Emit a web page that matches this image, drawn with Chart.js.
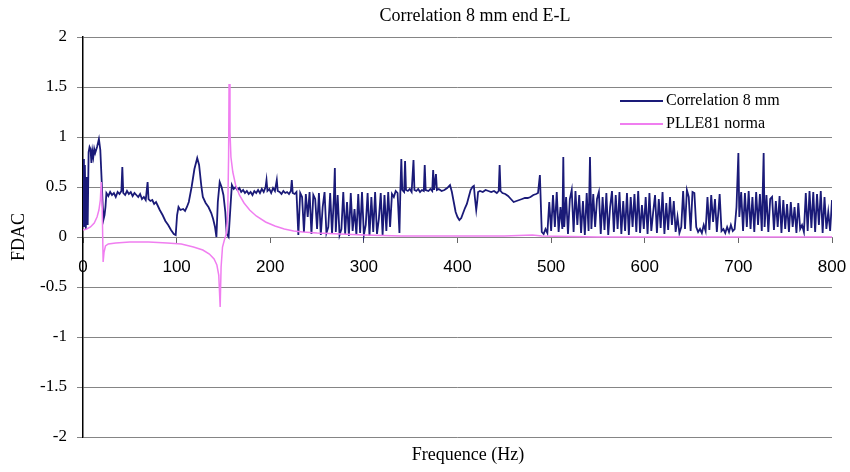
<!DOCTYPE html>
<html>
<head>
<meta charset="utf-8">
<title>Correlation 8 mm end E-L</title>
<script src="https://cdn.jsdelivr.net/npm/chart.js@4.4.1/dist/chart.umd.min.js"></script>
<style>
  html, body { margin: 0; padding: 0; background: #fff; }
  #fdac-chart { display: block; }
</style>
</head>
<body>
<canvas id="fdac-chart" width="850" height="472"></canvas>
<script>
const chartTitle = 'Correlation 8 mm end E-L';
const xTitle = 'Frequence (Hz)';
const yTitle = 'FDAC';
const seriesNames = ['Correlation 8 mm', 'PLLE81 norma'];
const xTicks = [0, 100, 200, 300, 400, 500, 600, 700, 800];
const yTicks = [-2, -1.5, -1, -0.5, 0, 0.5, 1, 1.5, 2];

// [frequency (Hz), FDAC]
const correlation8mm = [
	[0, 0.78], [1, 0.10], [2, 0.72], [3, 0.08], [4, 0.60], [5, 0.12], [6, 0.85], [7, 0.90], [8, 0.88],
	[9, 0.74], [10, 0.86], [11, 0.80], [12, 0.88], [13, 0.84], [15, 0.90], [17, 0.98], [18.5, 0.87],
	[20, 0.55], [21, 0.32], [22, 0.18], [23, 0.22], [24, 0.30], [25, 0.44],
	[27, 0.41], [29, 0.45], [31, 0.42], [33, 0.44], [35, 0.40], [37, 0.45], [39, 0.43], [41, 0.46],
	[42, 0.70], [43, 0.44], [45, 0.42], [47, 0.46], [49, 0.43], [51, 0.45], [53, 0.41], [55, 0.44],
	[57, 0.42], [59, 0.40], [61, 0.43], [63, 0.38], [65, 0.40], [67, 0.37], [69, 0.55], [70, 0.38],
	[72, 0.36], [74, 0.37], [76, 0.33], [78, 0.35], [80, 0.31],
	[82, 0.27], [85, 0.22], [88, 0.16], [91, 0.12], [94, 0.07], [97, 0.03], [99, 0.02], [100.5, 0.22],
	[102, 0.30], [104, 0.27], [107, 0.28], [109, 0.26], [111, 0.30], [113, 0.35], [116, 0.50], [119, 0.68],
	[122, 0.79], [124, 0.72], [126.5, 0.50], [128, 0.40], [131, 0.34], [134, 0.30], [137, 0.24], [139, 0.18],
	[141, 0.10], [142.5, 0.0], [144, 0.35], [146, 0.55], [148, 0.50], [150, 0.42], [152, 0.25], [153.5, 0.03],
	[155.5, 0.0], [157.5, 0.30], [159, 0.52],
	[161, 0.48], [163, 0.50], [165, 0.47], [167, 0.49], [169, 0.45], [171, 0.47], [173, 0.44], [175, 0.46],
	[177, 0.43], [179, 0.45], [181, 0.42], [183, 0.46], [185, 0.44], [187, 0.47], [189, 0.44], [191, 0.48],
	[193, 0.45], [195, 0.50], [196, 0.57], [197, 0.46], [199, 0.48], [201, 0.44], [203, 0.49], [205, 0.46],
	[207, 0.57], [208, 0.46], [210, 0.45], [212, 0.43], [214, 0.46], [216, 0.44], [218, 0.45], [220, 0.43],
	[222, 0.46], [223, 0.57], [224, 0.44], [226, 0.43], [228, 0.45],
	[230, 0.02], [232, 0.44], [234, 0.40], [236, 0.05], [238, 0.43], [240, 0.20], [242, 0.45], [244, 0.03],
	[246, 0.42], [248, 0.38], [250, 0.08], [252, 0.44], [254, 0.02], [256, 0.30], [258, 0.45], [260, 0.04],
	[262, 0.10], [264, 0.44], [266, 0.03], [268, 0.40], [269, 0.69], [270, 0.05], [272, 0.42], [274, 0.02],
	[276, 0.08], [278, 0.45], [280, 0.03], [282, 0.35], [284, 0.01], [286, 0.44], [288, 0.06], [290, 0.28],
	[292, 0.02], [294, 0.43], [296, 0.04], [298, 0.45], [300, 0.02], [302, 0.12], [304, 0.44], [306, 0.01],
	[308, 0.40], [310, 0.05], [312, 0.45], [314, 0.03], [316, 0.18], [318, 0.44], [320, 0.02], [322, 0.42],
	[324, 0.06], [326, 0.45], [328, 0.10], [330, 0.43], [332, 0.40], [334, 0.46], [336, 0.44], [338, 0.04],
	[339, 0.47], [340, 0.78], [341, 0.47], [343, 0.45], [344, 0.76], [345, 0.47], [347, 0.46], [349, 0.48],
	[351, 0.45], [353, 0.77], [354, 0.47], [356, 0.46], [358, 0.48], [360, 0.45], [362, 0.47], [364, 0.46],
	[365, 0.72], [366, 0.47], [369, 0.46], [371, 0.48], [373, 0.46], [374, 0.67], [375, 0.47], [377, 0.63],
	[378, 0.47], [380, 0.48], [383, 0.46], [386, 0.47], [389, 0.49], [392, 0.52], [394, 0.45], [396, 0.35],
	[398, 0.25], [400, 0.20], [402, 0.17], [404, 0.19], [406, 0.24], [408, 0.29], [410, 0.33], [412, 0.40],
	[414, 0.47], [416, 0.50], [417.5, 0.51], [418.5, 0.40], [420, 0.27], [421, 0.35], [422, 0.45], [424, 0.46],
	[427, 0.45], [430, 0.47], [433, 0.46], [436, 0.45], [439, 0.46], [442, 0.44], [444, 0.46], [445, 0.72],
	[446, 0.46], [448, 0.44], [451, 0.43], [454, 0.41], [457, 0.38], [460, 0.35], [463, 0.36], [466, 0.37],
	[469, 0.38], [472, 0.39], [475, 0.39], [478, 0.40], [481, 0.42], [484, 0.43], [486, 0.44], [488, 0.62],
	[490, 0.05], [492, 0.03], [494, 0.08], [496, 0.04], [498, 0.35], [500, 0.06], [502, 0.42], [504, 0.10],
	[506, 0.45], [508, 0.05], [510, 0.30], [512, 0.08], [513, 0.80], [514, 0.10], [516, 0.40], [518, 0.03],
	[520, 0.38], [522, 0.47], [524, 0.05], [526, 0.46], [528, 0.12], [530, 0.42], [532, 0.04], [534, 0.36],
	[536, 0.02], [538, 0.44], [540, 0.06], [541.5, 0.80], [543, 0.08], [545, 0.43], [547, 0.10], [549, 0.38],
	[551, 0.45], [553, 0.03], [555, 0.40], [557, 0.07], [559, 0.44], [561, 0.02], [563, 0.30], [565, 0.46],
	[567, 0.05], [569, 0.42], [571, 0.08], [573, 0.45], [575, 0.03], [577, 0.36], [579, 0.06], [581, 0.44],
	[583, 0.02], [585, 0.40], [587, 0.10], [589, 0.43], [591, 0.05], [593, 0.46], [595, 0.04], [597, 0.32],
	[599, 0.08], [601, 0.40], [603, 0.03], [605, 0.44], [607, 0.06], [609, 0.25], [611, 0.42], [613, 0.04],
	[615, 0.38], [617, 0.09], [619, 0.45], [621, 0.03], [623, 0.34], [625, 0.07], [627, 0.40], [629, 0.12],
	[631, 0.36], [633, 0.05], [635, 0.20], [637, 0.04], [639, 0.10], [641, 0.46], [643, 0.08], [645, 0.47],
	[647, 0.40], [649, 0.06], [651, 0.45], [653, 0.44], [655, 0.10], [657, 0.05], [659, 0.08], [661, 0.04],
	[663, 0.12], [665, 0.06], [667, 0.40], [669, 0.07], [671, 0.42], [673, 0.15], [675, 0.38], [677, 0.05],
	[679, 0.30], [680, 0.43], [682, 0.06], [684, 0.08], [686, 0.04], [688, 0.10], [690, 0.05], [692, 0.12],
	[694, 0.06], [696, 0.08], [698, 0.30], [700, 0.84], [701, 0.20], [703, 0.45], [705, 0.06], [707, 0.44],
	[709, 0.10], [711, 0.46], [713, 0.08], [715, 0.40], [717, 0.05], [719, 0.45], [721, 0.12], [723, 0.43],
	[725, 0.06], [727, 0.84], [728, 0.10], [730, 0.42], [732, 0.05], [734, 0.38], [736, 0.40], [738, 0.07],
	[740, 0.36], [742, 0.10], [744, 0.41], [746, 0.04], [748, 0.37], [750, 0.08], [752, 0.33], [754, 0.05],
	[756, 0.35], [758, 0.10], [760, 0.30], [762, 0.04], [764, 0.34], [766, 0.08], [768, 0.12], [770, 0.05],
	[772, 0.44], [774, 0.06], [776, 0.46], [778, 0.09], [780, 0.45], [782, 0.05], [784, 0.43], [786, 0.12],
	[788, 0.46], [790, 0.04], [792, 0.40], [794, 0.08], [796, 0.25], [798, 0.06], [800, 0.37],
];

const plle81Norma = [
	[0, 0.07], [4, 0.08], [8, 0.10], [12, 0.14], [15, 0.20], [17, 0.27], [18.5, 0.37], [19.5, 0.55],
	[20.5, 0.30], [21.5, -0.25], [22.5, -0.15], [24, -0.09], [27, -0.07], [35, -0.06], [50, -0.05],
	[70, -0.05], [90, -0.06], [105, -0.07], [118, -0.10], [128, -0.13], [135, -0.17], [140, -0.22],
	[143, -0.28], [145, -0.38], [146.5, -0.70], [147.5, -0.30], [149, -0.10], [151, -0.03], [153, 0.03],
	[154.5, 0.20], [155.5, 0.80], [156, 1.53], [157, 1.05], [158, 0.80], [160, 0.65], [163, 0.52],
	[167, 0.42], [172, 0.34], [178, 0.27], [185, 0.21], [195, 0.15], [205, 0.11], [215, 0.08], [225, 0.06],
	[235, 0.05], [250, 0.04], [275, 0.03], [300, 0.02], [340, 0.01], [400, 0.01], [450, 0.01], [480, 0.02],
	[490, 0.01], [550, 0.0], [650, 0.0], [800, 0.0],
];

const toPoints = (pairs) => pairs.map(([x, y]) => ({x, y}));

// titles and the in-plot legend are drawn by hand
const textLayer = {
	id: 'textLayer',
	afterDraw(chart) {
		const {ctx} = chart;
		ctx.save();
		ctx.fillStyle = '#000';
		ctx.textBaseline = 'middle';
		ctx.textAlign = 'center';
		ctx.font = '18px "Liberation Serif"';
		ctx.fillText(chartTitle, 475, 16);
		ctx.fillText(xTitle, 468, 455);

		ctx.textAlign = 'left';
		ctx.font = '16px "Liberation Serif"';
		chart.data.datasets.forEach((ds, i) => {
			const y = 101 + i * 23;
			ctx.strokeStyle = ds.borderColor;
			ctx.lineWidth = 2;
			ctx.beginPath();
			ctx.moveTo(620, y);
			ctx.lineTo(663, y);
			ctx.stroke();
			ctx.fillText(ds.label, 666, y);
		});
		ctx.restore();
	}
};

new Chart(
	document.getElementById('fdac-chart'),
	{
		type: 'line',
		data: {
			datasets: [
				{
					label: seriesNames[0],
					data: toPoints(correlation8mm),
					borderColor: '#1a1a78',
					borderWidth: 1.8,
					order: 1,
				},
				{
					label: seriesNames[1],
					data: toPoints(plle81Norma),
					borderColor: '#f07ef0',
					borderWidth: 1.5,
					order: 0,
				},
			]
		},
		options: {
			responsive: false,
			animation: false,
			layout: {
				padding: {left: 0, right: 18, top: 37, bottom: 35},
			},
			elements: {
				point: {radius: 0},
				line: {tension: 0},
			},
			plugins: {
				legend: {display: false},
				tooltip: {enabled: false},
			},
			scales: {
				x: {
					type: 'linear',
					position: {y: 0},
					min: 0,
					max: 800,
					afterBuildTicks: (scale) => {
						scale.ticks = xTicks.map(v => ({value: v}));
					},
					afterFit: (scale) => {
						// the 800 label may hang past the plot edge
						scale.paddingLeft = 0;
						scale.paddingRight = 0;
					},
					grid: {
						display: true,
						drawOnChartArea: false,
						drawTicks: true,
						tickLength: 5,
						color: '#666',
					},
					border: {display: true, color: '#858585'},
					ticks: {
						padding: 15,
						maxRotation: 0,
						autoSkip: false,
						color: '#000',
						font: {family: '"Liberation Sans", Arial, sans-serif', size: 17},
						callback: (v) => String(v),
					},
				},
				y: {
					type: 'linear',
					min: -2,
					max: 2,
					afterBuildTicks: (scale) => {
						scale.ticks = yTicks.map(v => ({value: v}));
					},
					afterFit: (scale) => {
						scale.width = 83;
					},
					grid: {
						color: '#858585',
						lineWidth: 1,
						drawTicks: true,
						tickLength: 6,
					},
					border: {display: true, color: '#000', width: 1.5},
					ticks: {
						padding: 10,
						color: '#000',
						font: {family: '"Liberation Serif", "Times New Roman", serif', size: 17},
						callback: (v) => String(v),
					},
					title: {
						display: true,
						text: yTitle,
						color: '#000',
						padding: {top: 8, bottom: 0},
						font: {family: '"Liberation Serif", "Times New Roman", serif', size: 18},
					},
				},
			},
		},
		plugins: [textLayer],
	}
);
</script>
</body>
</html>
